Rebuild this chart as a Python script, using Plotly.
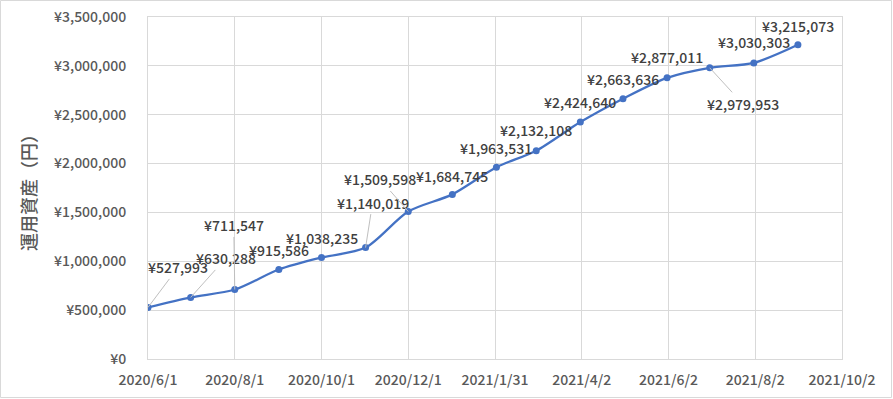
import plotly.graph_objects as go

# ---- data ----
dates = ["2020-06-01", "2020-07-01", "2020-08-01", "2020-09-01", "2020-10-01", "2020-11-01",
         "2020-12-01", "2021-01-01", "2021-02-01", "2021-03-01", "2021-04-01", "2021-05-01",
         "2021-06-01", "2021-07-01", "2021-08-01", "2021-09-01"]
assets = [527993, 630288, 711547, 915586, 1038235, 1140019, 1509598, 1684745,
          1963531, 2132108, 2424640, 2663636, 2877011, 2979953, 3030303, 3215073]
x_tick_vals = ["2020-06-01", "2020-08-01", "2020-10-01", "2020-12-01", "2021-01-31",
               "2021-04-02", "2021-06-02", "2021-08-02", "2021-10-02"]
x_tick_text = ["2020/6/1", "2020/8/1", "2020/10/1", "2020/12/1", "2021/1/31",
               "2021/4/2", "2021/6/2", "2021/8/2", "2021/10/2"]
y_title = "運用資産（円）"

# ---- label placement (pixel offsets, styling only) ----
label_offsets = [(30, -40, True), (35, -39, True), (-1, -64, True), (0, -20, False),
                 (0, -20, False), (7, -45, True), (-28, -32, True), (0, -18, False),
                 (0, -19, False), (0, -21, False), (0, -20, False), (0, -20, False),
                 (0, -21, False), (33, 36, True), (0, -21, False), (0, -19, False)]

FONT = "Noto Sans CJK JP"
WEIGHT = 500
W, H = 893, 399
ML, MR, MT, MB = 148, 51, 17, 40

fig = go.Figure()
fig.add_trace(go.Scatter(
    x=dates, y=assets, mode="lines+markers",
    line=dict(color="#4472C4", width=2.25, shape="spline", smoothing=0.8),
    marker=dict(color="#4472C4", size=7),
    hoverinfo="skip", showlegend=False,
))

label_font = dict(family=FONT, size=14, color="#404040", weight=WEIGHT)
annotations = []
for d, v, (dx, dy, leader) in zip(dates, assets, label_offsets):
    txt = f"¥{v:,}"
    if leader:
        annotations.append(dict(
            x=d, y=v, xref="x", yref="y", text=txt, showarrow=True,
            ax=dx, ay=dy, axref="pixel", ayref="pixel",
            arrowhead=0, arrowwidth=1, arrowcolor="#BFBFBF", standoff=0,
            font=label_font,
        ))
    else:
        annotations.append(dict(
            x=d, y=v, xref="x", yref="y", text=txt, showarrow=False,
            xshift=dx, yshift=-dy, font=label_font,
        ))

pw, ph = W - ML - MR, H - MT - MB
annotations.append(dict(
    x=(28 - ML) / pw, y=(H - MB - 188) / ph, xref="paper", yref="paper",
    xanchor="center", yanchor="middle",
    text=y_title, textangle=-90, showarrow=False,
    font=dict(family=FONT, size=18, color="#595959", weight=WEIGHT),
))

tick_font = dict(family=FONT, size=14, color="#595959", weight=WEIGHT)

fig.update_layout(
    width=W, height=H,
    margin=dict(l=ML, r=MR, t=MT, b=MB, pad=0, autoexpand=False),
    paper_bgcolor="white", plot_bgcolor="white",
    annotations=annotations,
    font=dict(family=FONT, size=14, color="#595959"),
    shapes=[dict(type="rect", xref="paper", yref="paper",
                 x0=-(ML - 0.5) / pw, x1=1 + (MR - 1.5) / pw,
                 y0=-(MB - 1.5) / ph, y1=1 + (MT - 0.5) / ph,
                 line=dict(color="#D9D9D9", width=1), layer="below")],
)
fig.update_xaxes(
    type="date", range=["2020-06-01", "2021-10-02"],
    tickvals=x_tick_vals, ticktext=x_tick_text,
    showgrid=True, gridcolor="#D9D9D9", gridwidth=1,
    showline=True, linecolor="#D9D9D9", linewidth=1, mirror=True,
    ticks="", ticklabelstandoff=8, automargin=False,
    tickfont=tick_font, zeroline=False, fixedrange=True,
)
fig.update_yaxes(
    range=[0, 3500000], dtick=500000, tick0=0,
    tickprefix="¥", tickformat=",d",
    showgrid=True, gridcolor="#D9D9D9", gridwidth=1,
    showline=True, linecolor="#D9D9D9", linewidth=1, mirror=True,
    ticks="", ticklabelstandoff=18, automargin=False,
    tickfont=tick_font, zeroline=False, fixedrange=True,
)

fig.write_html("out.html", config={"displayModeBar": False, "staticPlot": True},
               post_script="document.body.style.margin='0';document.body.style.overflow='hidden';")
